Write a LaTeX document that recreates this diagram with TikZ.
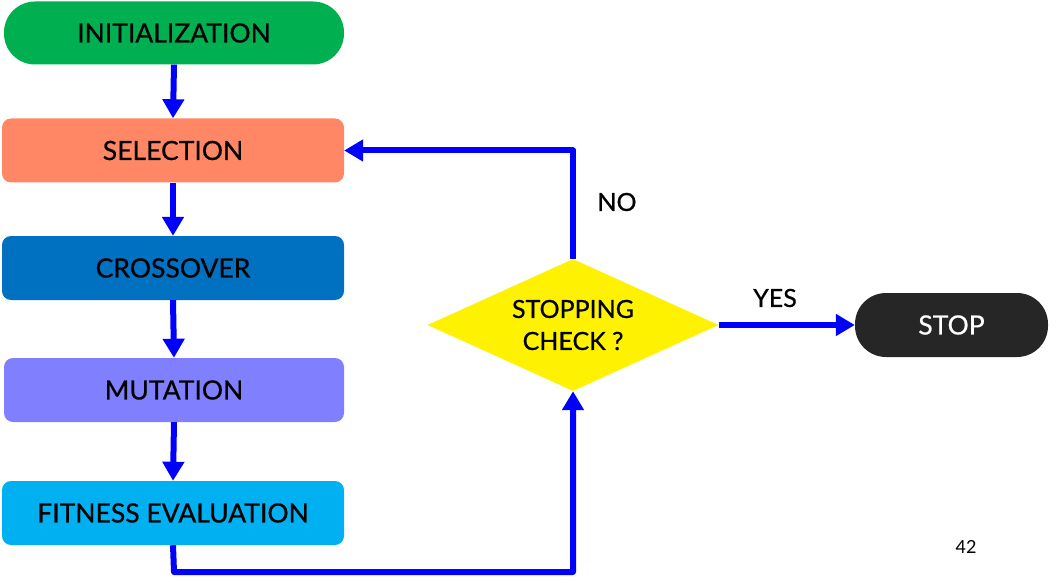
\documentclass[tikz,border=0pt]{standalone}
\usepackage{fontspec}
\setmainfont{Lato}[FakeBold=0.6]
\usetikzlibrary{arrows.meta,shapes.geometric,shapes.misc}
\definecolor{cinit}{HTML}{00B050}
\definecolor{csel}{HTML}{FF8766}
\definecolor{ccross}{HTML}{0070C0}
\definecolor{cmut}{HTML}{8080FF}
\definecolor{cfit}{HTML}{00B0F0}
\definecolor{cstop}{HTML}{262626}
\definecolor{carrow}{HTML}{0000FF}
\begin{document}
\begin{tikzpicture}[x=1pt,y=-1pt,
  box/.style={rectangle,rounded corners=9pt,minimum width=342pt,minimum height=64pt,inner sep=0pt,font=\fontsize{26.5}{30}\selectfont},
  term/.style={rectangle,rounded corners=31pt,minimum height=63pt,inner sep=0pt,font=\fontsize{26.5}{30}\selectfont},
  flow/.style={carrow,line width=6pt,line join=round,-{Triangle[length=19pt,width=21pt]}},
  lbl/.style={font=\fontsize{25}{30}\selectfont}]
\useasboundingbox (0,0) rectangle (1058,583);
\node[term,fill=cinit,minimum width=340pt] (init) at (174,33) {INITIALIZATION};
\node[box,fill=csel] (sel) at (173,150.5) {SELECTION};
\node[box,fill=ccross] (cross) at (173,268) {CROSSOVER};
\node[box,fill=cmut,minimum width=340pt] (mut) at (174,390) {MUTATION};
\node[box,fill=cfit] (fit) at (173,513) {FITNESS EVALUATION};
\node[diamond,fill=yellow,minimum width=291pt,minimum height=132pt,aspect=2.2,inner sep=0pt,align=center,font=\fontsize{25}{32}\selectfont] (chk) at (573,325) {STOPPING\\CHECK ?};
\node[term,fill=cstop,text=white,minimum width=193pt,minimum height=64pt] (stop) at (951.5,325) {STOP};
\coordinate (c1) at (174,572);
\draw[flow] (init.south) -- (sel.north);
\draw[flow] (sel.south) -- (cross.north);
\draw[flow] (cross.south) -- (mut.north);
\draw[flow] (mut.south) -- (fit.north);
\draw[flow] (fit.south) -- (c1) -| (chk.south);
\draw[flow] (chk.north) |- (sel.east);
\draw[flow] (chk.east) -- (stop.west);
\node[lbl] (no) at (617,202) {NO};
\node[lbl] (yes) at (775,298) {YES};
\node[font=\fontsize{18}{20}\selectfont\addfontfeature{FakeBold=0}] (pg) at (966,547) {42};
\end{tikzpicture}
\end{document}
